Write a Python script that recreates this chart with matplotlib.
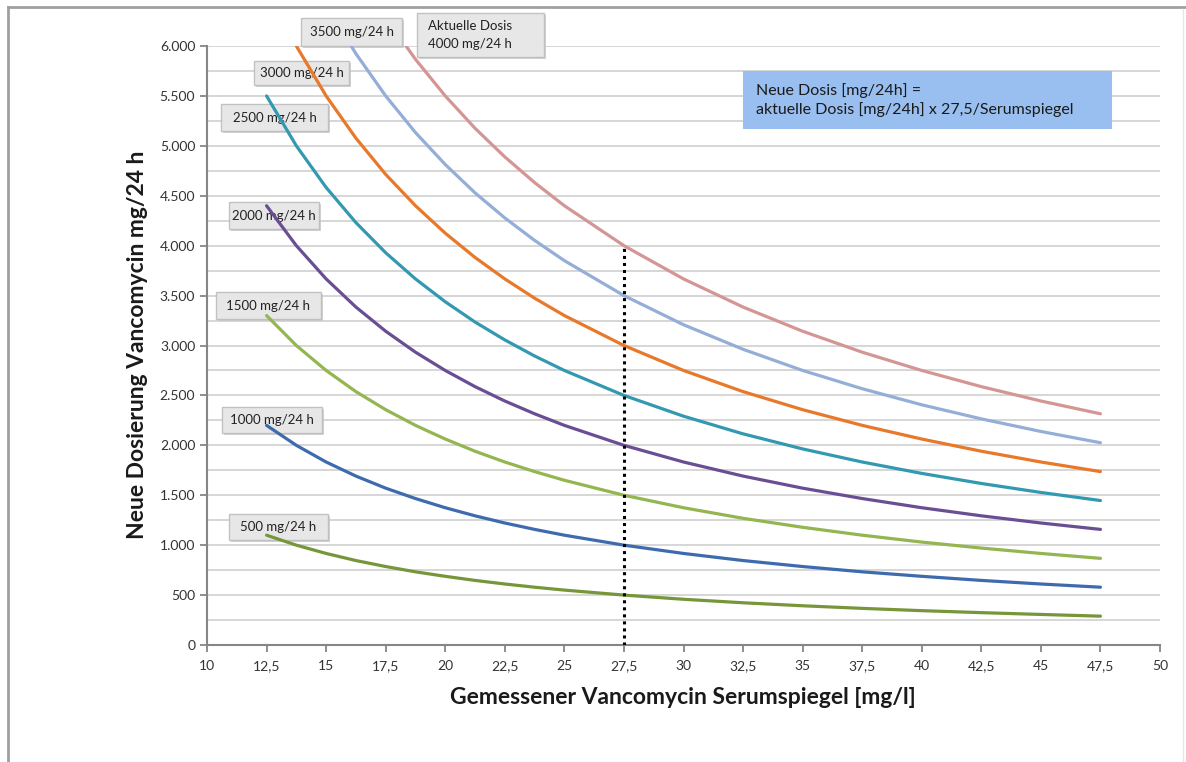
import numpy as np
import matplotlib
matplotlib.use("Agg")
import matplotlib.pyplot as plt
from matplotlib.lines import Line2D
from matplotlib.patches import Rectangle
from matplotlib.ticker import MultipleLocator, FuncFormatter

plt.rcParams['font.family'] = ['Lato', 'DejaVu Sans']

# Serum level (mg/l)
serum = [12.5, 13.75, 15, 16.25, 17.5, 18.75, 20, 21.25, 22.5, 23.75, 25,
         27.5, 30, 32.5, 35, 37.5, 40, 42.5, 45, 47.5]
nan = np.nan
dose_500 = [1100, 1000, 917, 846, 786, 733, 688, 647, 611, 579, 550,
            500, 458, 423, 393, 367, 344, 324, 306, 289]
dose_1000 = [2200, 2000, 1833, 1692, 1571, 1467, 1375, 1294, 1222, 1158, 1100,
             1000, 917, 846, 786, 733, 688, 647, 611, 579]
dose_1500 = [3300, 3000, 2750, 2538, 2357, 2200, 2063, 1941, 1833, 1737, 1650,
             1500, 1375, 1269, 1179, 1100, 1031, 971, 917, 868]
dose_2000 = [4400, 4000, 3667, 3385, 3143, 2933, 2750, 2588, 2444, 2316, 2200,
             2000, 1833, 1692, 1571, 1467, 1375, 1294, 1222, 1158]
dose_2500 = [5500, 5000, 4583, 4231, 3929, 3667, 3438, 3235, 3056, 2895, 2750,
             2500, 2292, 2115, 1964, 1833, 1719, 1618, 1528, 1447]
dose_3000 = [nan, 6000, 5500, 5077, 4714, 4400, 4125, 3882, 3667, 3474, 3300,
             3000, 2750, 2538, 2357, 2200, 2063, 1941, 1833, 1737]
dose_3500 = [nan, nan, 6417, 5923, 5500, 5133, 4813, 4529, 4278, 4053, 3850,
             3500, 3208, 2962, 2750, 2567, 2406, 2265, 2139, 2026]
dose_4000 = [nan, nan, nan, nan, 6286, 5867, 5500, 5176, 4889, 4632, 4400,
             4000, 3667, 3385, 3143, 2933, 2750, 2588, 2444, 2316]

series = [dose_500, dose_1000, dose_1500, dose_2000, dose_2500, dose_3000, dose_3500, dose_4000]
colors = ['#77963a', '#3e6bad', '#93b651', '#6a4e93', '#3399b0', '#e8782a', '#94aed8', '#d49695']

labels = ['500 mg/24 h', '1000 mg/24 h', '1500 mg/24 h', '2000 mg/24 h',
          '2500 mg/24 h', '3000 mg/24 h', '3500 mg/24 h', 'Aktuelle Dosis\n4000 mg/24 h']
# label boxes in pixels: x0, y0, x1, y1 (top-left origin)
label_boxes = [(229, 514, 328, 540), (222, 407, 322, 433), (216, 292, 321, 319),
               (229, 202, 319, 229), (221, 104, 328, 131), (254, 61, 349, 85),
               (301, 18, 402, 46), (417, 13, 544, 57)]

formula = 'Neue Dosis [mg/24h] =\naktuelle Dosis [mg/24h] x 27,5/Serumspiegel'

ref_level = 27.5
ref_dose = 4000

W, H = 1186, 762
fig = plt.figure(figsize=(W / 100, H / 100), dpi=100, facecolor='white')
ax = fig.add_axes([207 / W, 1 - 645 / H, (1160 - 207) / W, (645 - 46) / H])


def fx(px):
    return px / W


def fy(py):
    return 1 - py / H


for vals, c in zip(series, colors):
    ax.plot(serum, vals, color=c, lw=2.3, solid_capstyle='round', zorder=3)

ax.plot([ref_level, ref_level], [0, ref_dose], color='black', lw=2.2,
        linestyle=(0, (1, 1.3)), zorder=4)

ax.set_xlim(10, 50)
ax.set_ylim(0, 6000)
ax.xaxis.set_major_locator(MultipleLocator(2.5))
ax.yaxis.set_major_locator(MultipleLocator(500))
ax.yaxis.set_minor_locator(MultipleLocator(250))
ax.xaxis.set_major_formatter(FuncFormatter(lambda v, p: ('%g' % v).replace('.', ',')))
ax.yaxis.set_major_formatter(FuncFormatter(lambda v, p: '{:,.0f}'.format(v).replace(',', '.')))
ax.set_axisbelow(True)
ax.grid(True, axis='y', which='both', color='#d3d3d3', lw=1.3)
ax.tick_params(axis='both', which='major', direction='out', length=5, width=1.3,
               color='#868686', labelsize=10, labelcolor='#333333')
ax.tick_params(axis='y', which='minor', length=0)
ax.tick_params(axis='x', pad=6)
for s in ['top', 'right']:
    ax.spines[s].set_visible(False)
for s in ['left', 'bottom']:
    ax.spines[s].set_color('#868686')
    ax.spines[s].set_linewidth(1.5)

fig.text(fx(683), fy(697), 'Gemessener Vancomycin Serumspiegel [mg/l]',
         fontsize=16.5, fontweight='bold', ha='center', va='center', color='#1a1a1a')
fig.text(fx(137), fy(345), 'Neue Dosierung Vancomycin mg/24 h',
         fontsize=16.5, fontweight='bold', ha='center', va='center', rotation=90, color='#1a1a1a')

# curve label boxes: above the grid, below the curves
for txt, (x0, y0, x1, y1) in zip(labels, label_boxes):
    ax.add_patch(Rectangle((fx(x0 + 2), fy(y1 + 2)), (x1 - x0) / W, (y1 - y0) / H,
                           transform=fig.transFigure, fc='#c9c9c9', ec='none',
                           alpha=0.8, zorder=1, clip_on=False))
    ax.add_patch(Rectangle((fx(x0), fy(y1)), (x1 - x0) / W, (y1 - y0) / H,
                           transform=fig.transFigure, fc='#e9e9e9', ec='#bdbdbd',
                           lw=1.0, alpha=0.92, zorder=1.1, clip_on=False))
    if '\n' in txt:
        ax.text(fx(x0 + 11), fy((y0 + y1) / 2), txt, fontsize=9.5, ha='left', va='center',
                color='#222222', linespacing=1.6, zorder=1.2, transform=fig.transFigure,
                clip_on=False)
    else:
        ax.text(fx((x0 + x1) / 2), fy((y0 + y1) / 2), txt, fontsize=9.5, ha='center',
                va='center', color='#222222', zorder=1.2, transform=fig.transFigure,
                clip_on=False)

# formula box (above grid)
fig.add_artist(Rectangle((fx(743), fy(129)), (1112 - 743) / W, (129 - 71) / H,
                         transform=fig.transFigure, fc='#99bff0', ec='none', zorder=5))
fig.text(fx(756), fy(100), formula, fontsize=11.5, ha='left', va='center',
         color='#1a1a1a', linespacing=1.4, zorder=6)

# page frame
fig.add_artist(Line2D([fx(8), 1], [fy(7), fy(7)], color='#a0a0a0', lw=2, transform=fig.transFigure))
fig.add_artist(Line2D([fx(8), fx(8)], [0, fy(7)], color='#a0a0a0', lw=2, transform=fig.transFigure))
fig.add_artist(Line2D([fx(1183), fx(1183)], [0, fy(9)], color='#e6e6e6', lw=1, transform=fig.transFigure))

fig.savefig('out.png', dpi=100, facecolor='white')
